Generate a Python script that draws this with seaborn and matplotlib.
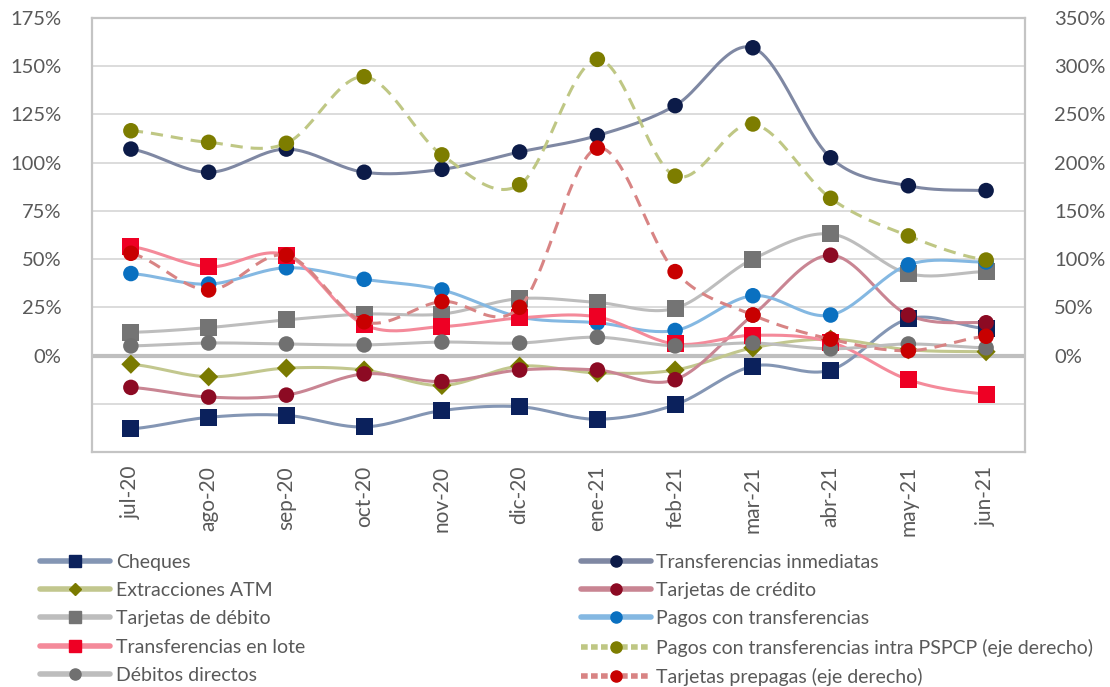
import numpy as np
import pandas as pd
import matplotlib
matplotlib.use("Agg")
import matplotlib.pyplot as plt
import seaborn as sns
from matplotlib.lines import Line2D
from matplotlib.ticker import FuncFormatter

months = ["jul-20", "ago-20", "sep-20", "oct-20", "nov-20", "dic-20",
          "ene-21", "feb-21", "mar-21", "abr-21", "may-21", "jun-21"]

# Variación interanual (%), eje izquierdo
cheques = [-38, -32, -31, -37, -28.5, -26.5, -33, -25.5, -5.5, -7.5, 19, 14]
transf_inmediatas = [107, 95, 107, 95, 96.5, 105.5, 114, 129.5, 159.5, 102.5, 88, 85.5]
extracciones_atm = [-4.5, -11, -6.5, -7.5, -15.5, -5.5, -9, -7.5, 4, 8.5, 3, 2]
tarjetas_credito = [-16.5, -21.5, -20.5, -9.5, -13.5, -7.5, -7.5, -12.5, 21, 52, 21, 17]
tarjetas_debito = [12, 14.5, 18.5, 21.5, 21.5, 29.5, 27.5, 24.5, 50, 63, 42.5, 43.5]
pagos_transf = [42.5, 37, 45.5, 39.5, 34, 20, 17, 13, 31, 21, 47, 48.5]
transf_lote = [56.5, 46, 52, 16, 15, 19.5, 20, 6, 10.5, 7, -12.5, -20]
debitos_directos = [5, 6.5, 6, 5.5, 7, 6.5, 9.5, 5, 6.5, 3.5, 6, 4]
# Eje derecho
pagos_pspcp = [233, 221, 220, 289, 208, 177, 307, 186, 240, 163, 124, 99]
tarjetas_prepagas = [106, 68, 104, 35, 56, 50, 215, 87, 42, 17, 5, 20]

TXT = "#595959"

sns.set_theme(style="white")
plt.rcParams["font.family"] = ["Lato", "DejaVu Sans"]


def smooth(values, n=24):
    """Catmull-Rom curve through the points (Excel-like smoothed line)."""
    y = np.asarray(values, float)
    p = np.concatenate([[y[0]], y, [y[-1]]])
    xs, ys = [], []
    t = np.linspace(0, 1, n, endpoint=False)
    for i in range(len(y) - 1):
        p0, p1, p2, p3 = p[i:i + 4]
        q = 0.5 * (2 * p1 + (-p0 + p2) * t
                   + (2 * p0 - 5 * p1 + 4 * p2 - p3) * t ** 2
                   + (-p0 + 3 * p1 - 3 * p2 + p3) * t ** 3)
        xs.extend(i + t)
        ys.extend(q)
    xs.append(len(y) - 1)
    ys.append(y[-1])
    return pd.DataFrame({"x": xs, "y": ys})


# (label, data, axis, line colour, marker colour, marker, size, dashed)
series = [
    ("Cheques", cheques, "L", "#8496B4", "#0B215C", "s", 150, False),
    ("Transferencias inmediatas", transf_inmediatas, "L", "#7F88A3", "#0C1B48", "o", 125, False),
    ("Extracciones ATM", extracciones_atm, "L", "#C2C78E", "#7A7A00", "D", 95, False),
    ("Tarjetas de crédito", tarjetas_credito, "L", "#C98593", "#8C0A23", "o", 125, False),
    ("Tarjetas de débito", tarjetas_debito, "L", "#BDBDBD", "#747474", "s", 150, False),
    ("Pagos con transferencias", pagos_transf, "L", "#84B8E2", "#0A70C0", "o", 125, False),
    ("Transferencias en lote", transf_lote, "L", "#F48A9A", "#EE0024", "s", 150, False),
    ("Pagos con transferencias intra PSPCP (eje derecho)", pagos_pspcp, "R", "#BFC784", "#7D7D00", "o", 125, True),
    ("Débitos directos", debitos_directos, "L", "#BDBDBD", "#707070", "o", 125, False),
    ("Tarjetas prepagas (eje derecho)", tarjetas_prepagas, "R", "#D88484", "#C80000", "o", 125, True),
]

fig = plt.figure(figsize=(11.10, 6.87), dpi=100)
ax = fig.add_axes([0.0829, 0.342, 0.8405, 0.632])
ax2 = ax.twinx()

x = np.arange(len(months))
ax.set_xlim(-0.5, len(months) - 0.5)
ax.set_ylim(-50, 175)
ax2.set_ylim(-100, 350)

ax.set_yticks(np.arange(-25, 176, 25))
ax2.set_yticks(np.arange(-50, 351, 50))
pct = FuncFormatter(lambda v, _: "" if v < 0 else f"{int(round(v))}%")
ax.yaxis.set_major_formatter(pct)
ax2.yaxis.set_major_formatter(pct)
ax.grid(axis="y", color="#D9D9D9", lw=1.3)
ax.grid(axis="x", visible=False)
ax2.grid(False)
ax.axhline(0, color="#BFBFBF", lw=3, zorder=1)

for lbl, vals, side, lc, mc, mk, sz, dashed in series:
    tgt = ax if side == "L" else ax2
    curve = smooth(vals)
    kw = dict(linestyle=(0, (4, 2.6))) if dashed else {}
    sns.lineplot(data=curve, x="x", y="y", ax=tgt, color=lc, lw=2.2,
                 legend=False, zorder=2, **kw)
    sns.scatterplot(x=x, y=vals, ax=tgt, color=mc, marker=mk, s=sz,
                    edgecolor="none", linewidth=0, legend=False, zorder=3)

ax.set_xticks(x)
ax.set_xticklabels(months, rotation=90)
for a in (ax, ax2):
    a.set_xlabel("")
    a.set_ylabel("")
    a.tick_params(length=0, labelsize=14.5, colors=TXT)
ax.tick_params(axis="y", pad=22)
ax2.tick_params(axis="y", pad=21)
ax.tick_params(axis="x", pad=10, labelsize=15)
for s in ax.spines.values():
    s.set_visible(True)
    s.set_color("#C4C4C4")
    s.set_linewidth(1.6)
for s in ax2.spines.values():
    s.set_visible(False)

# Two-column legend below the chart
def handle(lbl, lc, mc, mk, dashed):
    return Line2D([0], [0], color=lc, lw=4, marker=mk, markersize=8 if mk != "D" else 6.5,
                  markerfacecolor=mc, markeredgecolor=mc,
                  linestyle=(0, (1.2, 0.6)) if dashed else "-", label=lbl)

left_idx = [0, 2, 4, 6, 8]
right_idx = [1, 3, 5, 7, 9]
for idx, xpos in ((left_idx, 0.036), (right_idx, 0.523)):
    hs = [handle(series[i][0], series[i][3], series[i][4], series[i][5], series[i][7]) for i in idx]
    leg = fig.legend(handles=hs, loc="upper left", bbox_to_anchor=(xpos, 0.194),
                     frameon=False, fontsize=14, handlelength=3.6, handletextpad=0.3,
                     labelspacing=0.58, borderpad=0, borderaxespad=0)
    for t in leg.get_texts():
        t.set_color(TXT)

fig.savefig("out.png", dpi=100)
